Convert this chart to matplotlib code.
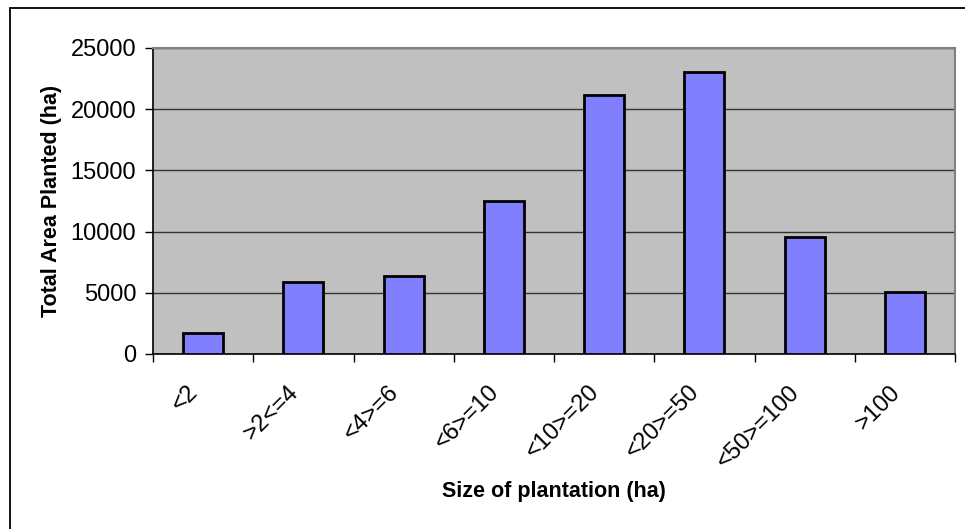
import matplotlib.pyplot as plt
import matplotlib.transforms as mtransforms
from matplotlib.patches import Rectangle
import numpy as np

plt.rcParams['font.family'] = ['Liberation Sans', 'DejaVu Sans']

# Data
categories = ["<2", ">2<=4", "<4>=6", "<6>=10", "<10>=20", "<20>=50", "<50>=100", ">100"]
area_planted = [1700, 5850, 6350, 12500, 21200, 23050, 9550, 5100]
y_ticks = [0, 5000, 10000, 15000, 20000, 25000]

W, H = 965, 529
fig = plt.figure(figsize=(W / 100, H / 100), dpi=100)

# outer chart border (cut off at right/bottom like the screenshot)
fig.patches.append(Rectangle((10 / W, -0.05), 1.1, 1 - 8 / H + 0.05, transform=fig.transFigure,
                             fill=False, edgecolor="black", linewidth=1.3))

ax = fig.add_axes([153 / W, (H - 354) / H, 802 / W, 306 / H])
ax.set_facecolor("#C0C0C0")

x = np.arange(len(categories))
ax.bar(x, area_planted, width=0.4, color="#8080FF", edgecolor="black", linewidth=2, zorder=3)

ax.set_xlim(-0.5, len(categories) - 0.5)
ax.set_ylim(0, 25000)
ax.set_yticks(y_ticks)
ax.set_yticklabels([str(v) for v in y_ticks], fontsize=17)
ax.yaxis.grid(True, color="#333333", linewidth=1, zorder=1)
ax.set_axisbelow(True)

# category labels at bar centres, tick marks at category boundaries
ax.set_xticks(x)
ax.set_xticklabels(categories, fontsize=17, rotation=45, ha="right", va="center",
                   rotation_mode="anchor")
ax.tick_params(axis="x", which="major", length=0, pad=25)
ax.set_xticks(np.arange(len(categories) + 1) - 0.5, minor=True)
ax.tick_params(axis="x", which="minor", length=6, width=1, color="black", direction="out")
ax.tick_params(axis="y", length=6, width=1, pad=6)
shift = mtransforms.ScaledTranslation(-8 / 100, 0, fig.dpi_scale_trans)
for lbl in ax.get_xticklabels():
    lbl.set_transform(lbl.get_transform() + shift)

for side in ["top", "right"]:
    ax.spines[side].set_color("#808080")
    ax.spines[side].set_linewidth(1.5)
for side in ["left", "bottom"]:
    ax.spines[side].set_color("black")
    ax.spines[side].set_linewidth(1.2)

fig.text(52 / W, 1 - 201 / H, "Total Area Planted (ha)", rotation=90, fontsize=15.5,
         fontweight="bold", ha="center", va="center")
fig.text(554 / W, 1 - 492 / H, "Size of plantation (ha)", fontsize=15.5,
         fontweight="bold", ha="center", va="center")

fig.savefig("out.png", dpi=100)
